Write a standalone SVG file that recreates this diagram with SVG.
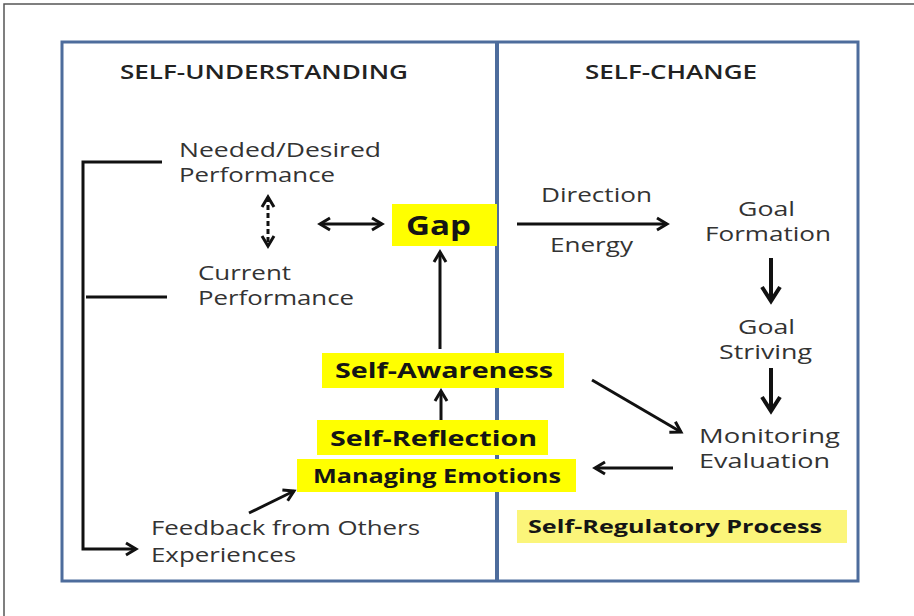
<svg xmlns="http://www.w3.org/2000/svg" width="914" height="616" viewBox="0 0 914 616">
<defs>
<style>
text{font-family:"Open Sans","Liberation Sans",sans-serif;}
.t{font-size:19.5px;fill:#333;}
.h{font-size:19px;font-weight:600;fill:#222;}
.b{font-weight:700;fill:#151515;}
.yel{fill:#ffff00;}
.ln{stroke:#111;stroke-width:3;fill:none;}
.thick{stroke:#111;stroke-width:4;fill:none;}
</style>
<marker id="ah" markerUnits="userSpaceOnUse" markerWidth="16" markerHeight="16" viewBox="0 0 16 16" refX="13" refY="8" orient="auto-start-reverse">
<path d="M3,2 L13,8 L3,14" fill="none" stroke="#111" stroke-width="3"/>
</marker>
<marker id="ahb" markerUnits="userSpaceOnUse" markerWidth="22" markerHeight="22" viewBox="0 0 22 22" refX="18" refY="11" orient="auto">
<path d="M4,2 L18,11 L4,20" fill="none" stroke="#111" stroke-width="4"/>
</marker>
</defs>
<rect x="0" y="0" width="914" height="616" fill="#fff"/>
<rect x="4" y="4" width="920" height="620" fill="none" stroke="#555" stroke-width="1.5"/>
<g id="frame">
<rect x="62" y="42" width="796" height="539" fill="#fff" stroke="#4d6c9c" stroke-width="3"/>
<line x1="497" y1="42" x2="497" y2="581" stroke="#4d6c9c" stroke-width="4"/>
</g>
<g id="headers">
<text class="h" x="120" y="79" textLength="288" lengthAdjust="spacingAndGlyphs">SELF-UNDERSTANDING</text>
<text class="h" x="585" y="79" textLength="172" lengthAdjust="spacingAndGlyphs">SELF-CHANGE</text>
</g>
<g id="connectors">
<path class="ln" d="M162,162 H83 V549 H136" marker-end="url(#ah)"/>
<line class="ln" x1="86" y1="297" x2="167" y2="297"/>
<line class="ln" x1="268" y1="197" x2="268" y2="246" stroke-dasharray="5,3" marker-start="url(#ah)" marker-end="url(#ah)"/>
<line class="ln" x1="320" y1="224" x2="382" y2="224" stroke-width="2.5" marker-start="url(#ah)" marker-end="url(#ah)"/>
<line class="ln" x1="440" y1="349" x2="440" y2="252" marker-end="url(#ah)"/>
<line class="ln" x1="441" y1="420" x2="441" y2="391" marker-end="url(#ah)"/>
<line class="ln" x1="249" y1="513" x2="294" y2="491" marker-end="url(#ah)"/>
<line class="ln" x1="517" y1="224" x2="667" y2="224" marker-end="url(#ah)"/>
<line class="thick" x1="771" y1="258" x2="771" y2="301" marker-end="url(#ahb)"/>
<line class="thick" x1="771" y1="368" x2="771" y2="411" marker-end="url(#ahb)"/>
<line class="ln" x1="592" y1="380" x2="681" y2="432" marker-end="url(#ah)"/>
<line class="ln" x1="673" y1="468" x2="595" y2="468" marker-end="url(#ah)"/>
</g>
<g id="needed">
<text class="t" x="179" y="157" textLength="202" lengthAdjust="spacingAndGlyphs">Needed/Desired</text>
<text class="t" x="179" y="182" textLength="156" lengthAdjust="spacingAndGlyphs">Performance</text>
</g>
<g id="current">
<text class="t" x="198" y="280" textLength="93" lengthAdjust="spacingAndGlyphs">Current</text>
<text class="t" x="198" y="305" textLength="156" lengthAdjust="spacingAndGlyphs">Performance</text>
</g>
<g id="gap">
<rect class="yel" x="392" y="204" width="105" height="42"/>
<text class="b" x="406" y="235" font-size="26" textLength="65" lengthAdjust="spacingAndGlyphs">Gap</text>
</g>
<g id="direction">
<text class="t" x="541" y="202" textLength="111" lengthAdjust="spacingAndGlyphs">Direction</text>
<text class="t" x="550" y="252" textLength="83" lengthAdjust="spacingAndGlyphs">Energy</text>
</g>
<g id="goal-formation">
<text class="t" x="738" y="216" textLength="57" lengthAdjust="spacingAndGlyphs">Goal</text>
<text class="t" x="705" y="241" textLength="126" lengthAdjust="spacingAndGlyphs">Formation</text>
</g>
<g id="goal-striving">
<text class="t" x="738" y="334" textLength="57" lengthAdjust="spacingAndGlyphs">Goal</text>
<text class="t" x="719" y="359" textLength="93" lengthAdjust="spacingAndGlyphs">Striving</text>
</g>
<g id="monitoring">
<text class="t" x="699" y="443" textLength="141" lengthAdjust="spacingAndGlyphs">Monitoring</text>
<text class="t" x="699" y="468" textLength="131" lengthAdjust="spacingAndGlyphs">Evaluation</text>
</g>
<g id="self-awareness">
<rect class="yel" x="322" y="353" width="242" height="35"/>
<text class="b" x="335" y="378" font-size="21" textLength="218" lengthAdjust="spacingAndGlyphs">Self-Awareness</text>
</g>
<g id="self-reflection">
<rect class="yel" x="317" y="420" width="231" height="35"/>
<text class="b" x="330" y="446" font-size="21" textLength="207" lengthAdjust="spacingAndGlyphs">Self-Reflection</text>
</g>
<g id="managing-emotions">
<rect class="yel" x="297" y="459" width="279" height="33"/>
<text class="b" x="313" y="483" font-size="19" textLength="248" lengthAdjust="spacingAndGlyphs">Managing Emotions</text>
</g>
<g id="feedback">
<text class="t" x="151" y="535" textLength="269" lengthAdjust="spacingAndGlyphs">Feedback from Others</text>
<text class="t" x="151" y="562" textLength="145" lengthAdjust="spacingAndGlyphs">Experiences</text>
</g>
<g id="self-regulatory">
<rect x="517" y="510" width="330" height="33" fill="#fbf57a"/>
<text class="b" x="528" y="533" font-size="18" textLength="294" lengthAdjust="spacingAndGlyphs">Self-Regulatory Process</text>
</g>
</svg>
